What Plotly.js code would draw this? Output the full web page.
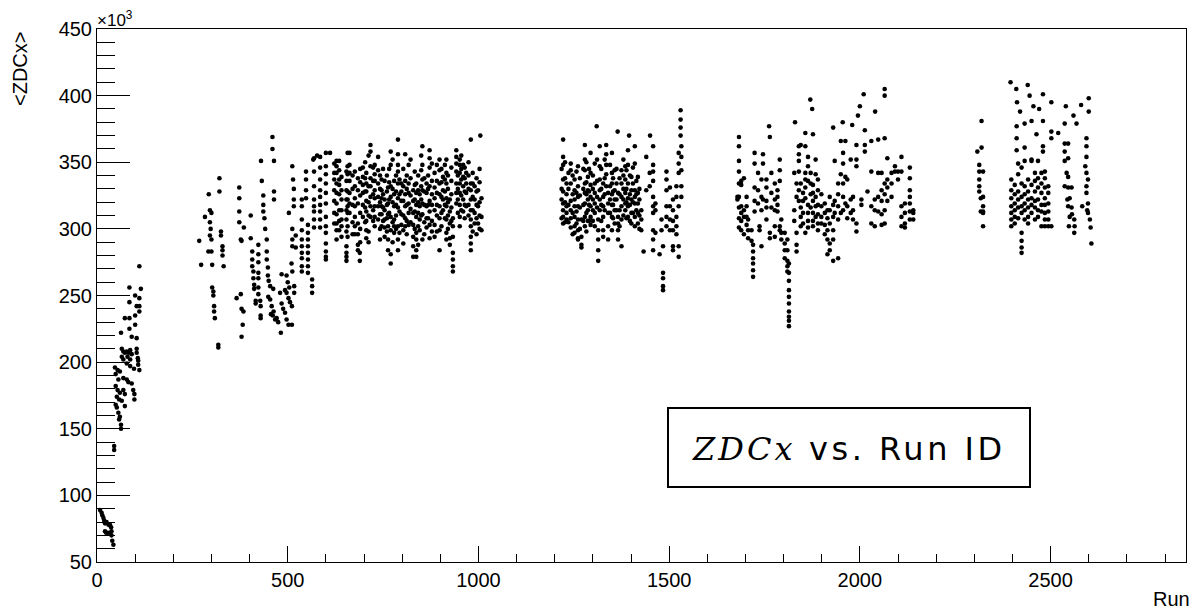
<!DOCTYPE html>
<html>
<head>
<meta charset="utf-8">
<script src="https://cdn.plot.ly/plotly-3.0.1.min.js"></script>
<style>html,body{margin:0;padding:0;background:#fff;}#chart{width:1194px;height:610px;}</style>
</head>
<body>
<div id="chart"></div>
<script>
// <ZDCx> values are in units of 10^3.
// Early runs (scattered)
const runA = [8,12,14,17,19,21,25,30,34,21,28,34,38,38,40,43,37,24,45,45];
const zdcA = [89,87,85,83,81,79,80,78,78,73,72,72,73,70,66,63,76,72,137,134];

const runB = [111,85,115,100,85,111,104,111,111,73,85,100,100,85,63,91,104,
  65,69,73,78,82,87,91,80,87,104,104,107,108,108,111,97,87,78,69,65,
  47,54,60,49,56,69,78,82,91,49,54,60,69,73,95,98,98,52,58,65,49,52,73,56,60,58,63,63];
const zdcB = [272,256,255,250,245,248,242,242,238,233,233,235,228,225,222,219,218,
  210,208,207,208,207,209,206,204,202,210,207,203,201,198,194,195,197,199,202,204,
  196,194,193,191,187,188,187,185,184,182,179,177,179,176,179,176,172,174,172,171,168,166,167,162,159,157,153,150];

const runC = [268,273,283,293,296,300,296,298,296,300,292,300,302,321,321,325,325,329,329,329,332,
  302,305,305,307,307,309,318,318,373,373,373,373,377,379,385,366,377,379,384,382,379,
  403,403,407,407,407,410,410,412,412,416,416,423,423,423,423,423,423,423,428,
  430,432,436,436,436,439,441,445,445,445,448,448,450,454,462,464,464,464,429,429,429,
  449,454,458,463,456,461,467,471,475,482,480,484,488,493,497,502,511,493,497,502,506,511,
  484,497,500,504,517,517,512,514,516,516,516,503,512,512,512,521,521,512,510,460,460,
  537,537,537,537,537,537,537,537,537,537];
const zdcC = [291,273,309,326,314,312,305,300,295,292,283,283,273,338,328,298,295,287,284,280,272,
  256,253,250,242,238,233,213,211,331,323,313,305,292,291,301,248,251,240,238,228,219,
  310,293,283,277,272,268,263,258,255,246,244,288,281,275,267,263,256,251,246,
  351,336,325,318,313,308,300,292,283,277,271,265,261,257,255,351,328,322,242,235,233,
  249,247,242,238,236,235,232,233,230,222,252,244,240,237,232,228,228,254,252,248,245,242,
  266,265,260,256,252,257,347,337,330,322,317,312,300,292,287,295,286,268,274,369,360,
  322,317,307,299,292,287,282,278,272,268];

// Dense period 500-1010: run columns and their values
const runD = [548,553,564,569,585,600,628,641,654,662,676,684,689,697,706,717,728,737,746,754,763,770,779,789,
  798,808,817,829,837,846,853,864,872,885,898,907,916,925,933,942,951,960,968,980,990,999,1008,567,577,611,1005,
  622,635,657,670,690,703,712,724,742,750,760,766,775,784,793,803,812,822,833,842,850,858,868,878,891,903,912,
  920,929,946,955,964,974,985,995,1003];
const zdcD = [[343,337,329,323],[303,297,292,287,282,277,272,267],[262,257,252],[353,343,332,322,317,313,307,301],
  [354,346,337,329,324,318,313,307,301],[357,347,341,334,327,319,309,302,297,289,283,279,277],
  [351,347,342,334,327,319,311,304,299,292],[339,329,322,314,307,302,294],
  [343,336,329,322,314,307,298,287,282,279,276],[357,348,342,336,327,319,312],[343,332,323,317,309,302,296],
  [338,329,319,304,296,288,284],[282,276],[346,339,333,327,318,309],[342,334,328,321,313,306,299,293],
  [363,358,347,338,332,324,317,309],[348,341,336,329,323,317,309,302],[354,344,334,324,317,307],
  [337,329,323,317,311,302],[336,322,314,307,301,294],[331,319,311,302,292,284],[358,348,332,324,309,299,281,274],
  [336,326,317,307,302,297],[367,356,348,343,334,323,316,302,292,284],[334,328,321,311,303],
  [356,336,326,317,308,302],[348,334,327,319,312,303],[329,321,312,303,294,287,279],
  [334,327,318,309,297,292,284,279],[326,317,307,299],[362,348,337,329,319,311,292],[334,327,317,308,301],
  [359,353,346,332,321,313,303,293],[342,331,323,314,303,294],[352,344,334,326,317,308,299,284],
  [339,329,322,314],[352,342,334,323,317,307,297,292],[322,313,304,293,288],[308,302,294,282,277,272,268],
  [359,354,349,343,334,327,319],[352,348,342,334,327,318,309,302],[348,339,332,322,313],[342,334,327,317],
  [367,334,329,322,314,307,302,294,289,284],[332,322,312,304],[329,317,304],[323,309,299],[352],[355],[357],[370],
  [349,342,337,329,321,312,304],[351,344,337,333,326,314,306,299],[357,347,341,328,322,317,312,302,294],
  [340,330,318,305,296],[345,335,325,312,300,290],[350,338,328,316,305],[355,332,320,310,298,290],
  [346,336,326,314,306],[340,330,320,311,300,292],[345,326,316,306],[340,328,318,308,298],[345,335,322,312],
  [352,330,320,305,290],[340,328,318,310,300],[337,326,313,297],[345,332,321,310,299,289],[340,330,318,306,296],
  [352,338,325,315,305],[343,333,322,313,300],[340,329,320,312,302,288],[355,344,332,322,310],
  [338,328,318,305,296],[340,330,318,308],[349,336,326,318,306,298],[348,336,327,318,310,298],
  [345,335,324,312,302],[348,337,328,318,308],[340,330,320,310,300],[346,336,326,316,306],[340,330,322,312],
  [355,345,337,325,314],[346,338,328,318,308],[350,340,330,318,310],[342,334,324,314,298],[338,328,318,308,296],
  [345,335,320,310,300]];

// Period 1200-1535
const runE = [1222,1231,1242,1252,1261,1270,1279,1287,1294,1305,1314,1318,1327,1335,1340,1350,1357,1366,1375,1385,
  1392,1401,1410,1418,1427,1433,1440,1449,1458,1464,1475,1480,1484,1493,1502,1510,1519,1525,1532,
  1530,1310,1365,1395,1450,
  1218,1227,1236,1247,1257,1266,1275,1283,1290,1300,1311,1322,1331,1345,1353,1362,1370,1380,1388,1397,1405,1414,1422];
const zdcE = [[367,354,348,337,328,319,314,309,304],[334,326,317,312,307],[349,344,334,321,314,308,301],
  [337,329,322,317,309,302,297],[347,332,324,317,307,299,293,292],[307,294,288,286],
  [363,352,344,334,327,319,309,302],[339,329,322,314,306],[357,342,333,324,317,309,303],
  [349,334,327,319,312,302],[307,299,292,284,276],[362,347,337,329,322,314],[334,324,317,309,299,294],
  [363,356,348,341,332],[327,319,312,302,292],[357,342,334,326,318,309,299],[344,329,322,314,304],
  [327,309,304,299,292],[344,334,324,317,307,287],[347,337,327,319,314],[359,348,334,323,317,309],
  [339,329,322,312,304],[362,349,329,324,319,309,302],[339,327,319,312,304],[314,307,299],[283],
  [354,329],[342,332],[362,348,343,336,324,317,312,299,292,284],[319,314,297],[281],[307,299],
  [287,267,263,257,254],[343,337,329,317,309,302],[331,317,307,299],[322,314,306,299,287,284],
  [332,324,309,302,296],[357,349,342,317,287,279],[362,354,344,332,324],
  [389,382,376,370],[377],[373],[370],[370],
  [345,330,322,308],[350,338,320,305],[342,330,318,305],[340,326,312,296],[343,327,313,304],[338,325,316,300],
  [345,330,318,306],[350,335,326,312,298],[345,328,318,306],[340,330,322,314,306],[352,336,324,316],
  [345,330,318,306],[352,338,326,314],[348,332,322,312],[338,328,318,308],[345,334,322,314],[338,326,314,302],
  [352,340,330,322,310],[344,330,320,308],[340,326,318,306],[346,334,320,312],[336,326,314],[330,322,310,300]];

// Period 1670-2140
const runF = [1679,1683,1689,1696,1703,1707,1716,1720,1724,1733,1737,1742,1746,1755,1764,1768,1777,1784,1790,1794,
  1803,1810,1814,1828,1834,1840,1845,1851,1857,1864,1871,1877,1884,1890,1899,1908,1915,1921,1930,1934,
  1943,1950,1956,1962,1967,1976,1982,1991,2004,2013,2020,2030,2039,2048,2057,2065,2072,2083,2092,2100,
  2109,2118,2131,2140,1870,1762,1995,2010,2000,2065,1955,2040,1980,1875,1830,1930];
const zdcF = [[324,322],[369,362,351,343,334,324,316,308,301],[336,333,317,312,306,299],[338,314,309,296],
  [324,317,309,303],[307,299,293],[299,291],[288,283,278,274,269,264],[357,349,331,321,313],[342,329,319],
  [302,299],[337,324,314,287],[356,349,322],[337,331,321,316,307],[369,297,293],[342,327,316],
  [334,322,314,302,294],[329,324,318,313],[352,344,336,302,299],[307,297,292],[297,289,284,278],
  [292,284,276,272,268],[274,267,261,254,249,244,238,234,231,227],[342,314,306],[334,324,297,288,283],
  [362,356,351,343,329,321],[363,334,316,309,302],[327,321,312,304],[372,362,342,337,331,323,297],
  [354,347,336,318,312,306,301],[342,334,326,316],[371,333,327,321,312,306,302],[352,341,324,317,309],
  [337,329,318,311,304,299],[326,317,309,304],[319,312,303,296],[314,308,299,292,281],[324,314,304,289,284],
  [318,309,299,292,276],[351,321,312],[334,326,317,307,278],[366,341,312],[357,349,334,324,314],
  [366,339,319],[337,317,308],[352,322,312],[324,314,307],[363,352,347,304,298],[322,318],[374,363,358],
  [328],[366,343,317,304],[322,314,302],[367,342,324,313],[342,329,321,311,303],[368,334,326,314,304],
  [353,337,331,321],[342,334,324],[347,343],[343,337],[354,343,317,309,302],[319,312,304,301],
  [346,338,329,324,319,313,307],[314,312,307],[397],[377],[385],[401],[392],[405,400],[380],[388],[378],[390],[380],[376]];

// Period 2300-2610
const runG = [2308,2313,2317,2319,2323,2397,2406,2411,2415,2424,2432,2441,2450,2459,2463,2467,2476,2480,2485,2494,
  2502,2520,2537,2542,2544,2546,2548,2550,2555,2556,2562,2563,2568,2583,2591,2594,2596,2598,2603,2605,2607,
  2395,2410,2440,2445,2470,2540,2560,2580,2600,2412,2420,2455];
const zdcG = [[358],[348,343,337,332,328],[323,313],[381,361],[343,324,317,313,312,302],
  [337,329,323,317,312,307,302],[333,326,319,314,309,304],[377,368,359],[349,341,328,322,316,308],
  [346,334,324,317,312,297,291,286,282],[379,361,351,332,326,319,314,307],[337,328,322,316,309,304],
  [381,352,351,333,323,318,312],[342,336,328,321,316,307],[371],[351,338,331,322,314,309],
  [342,334,327,318,313,302],[381,362,358,401],[343,338,331,323,318,312,307,302],[332,327,319,313,307,302],
  [373,368,302,395],[372],[379,364,358,351,332],[342],[322],[364,353,339,331,317],[302],[323,309],[331,316],
  [311],[307,297],[302],[379],[317],[347],[368,362,354,342,332,327],[314],[337,319,312],[307],[301],[289],
  [410],[405],[408],[400],[390],[392],[385],[393],[398,388],[395],[388],[392]];

const runs = [], zdcx = [];
runA.forEach((r,i)=>{runs.push(r); zdcx.push(zdcA[i]);});
runB.forEach((r,i)=>{runs.push(r); zdcx.push(zdcB[i]);});
runC.forEach((r,i)=>{runs.push(r); zdcx.push(zdcC[i]);});
[[runD,zdcD],[runE,zdcE],[runF,zdcF],[runG,zdcG]].forEach(([rr,vv])=>{
  rr.forEach((r,i)=>{vv[i].forEach(v=>{runs.push(r); zdcx.push(v);});});
});

const FONT = 'Liberation Sans, Arial, Helvetica, sans-serif';
const axisFont = {family:FONT, size:20, color:'#000'};

const trace = {
  x: runs, y: zdcx, type:'scatter', mode:'markers',
  marker:{color:'#000', size:4.6, symbol:'circle', line:{width:0}},
  hoverinfo:'x+y'
};

// plot area in pixels: x 97..1186, y 29..562
const px = v => (v-97)/1089;
const py = v => (562-v)/533;

const layout = {
  width:1194, height:610,
  margin:{l:97, r:8, t:29, b:48, pad:0},
  paper_bgcolor:'#fff', plot_bgcolor:'#fff',
  showlegend:false,
  font: axisFont,
  xaxis:{
    range:[0,2855], showgrid:false, zeroline:false,
    showline:true, linecolor:'#000', linewidth:1, mirror:true,
    ticks:'inside', ticklen:16, tickwidth:1, tickcolor:'#000',
    tick0:0, dtick:500, tickfont:axisFont,
    minor:{dtick:100, ticks:'inside', ticklen:8, tickwidth:1, tickcolor:'#000', showgrid:false}
  },
  yaxis:{
    range:[50,450], showgrid:false, zeroline:false,
    showline:true, linecolor:'#000', linewidth:1, mirror:true,
    ticks:'inside', ticklen:33, tickwidth:1, tickcolor:'#000',
    tick0:50, dtick:50, tickfont:axisFont,
    minor:{dtick:10, ticks:'inside', ticklen:18, tickwidth:1, tickcolor:'#000', showgrid:false}
  },
  shapes:[{
    type:'rect', xref:'paper', yref:'paper',
    x0:px(668), x1:px(1030), y0:py(487), y1:py(408),
    line:{color:'#000', width:2}, fillcolor:'rgba(255,255,255,0)'
  }],
  annotations:[
    {text:'&lt;ZDCx&gt;', xref:'paper', yref:'paper', x:px(20), y:py(69),
     xanchor:'center', yanchor:'middle', textangle:-90, showarrow:false,
     font:{family:FONT, size:20, color:'#000'}},
    {text:'×10<sup>3</sup>', xref:'paper', yref:'paper', x:px(95), y:py(19),
     xanchor:'left', yanchor:'middle', showarrow:false,
     font:{family:FONT, size:17, color:'#000'}},
    {text:'Run', xref:'paper', yref:'paper', x:px(1192), y:py(599),
     xanchor:'right', yanchor:'middle', showarrow:false,
     font:{family:FONT, size:20, color:'#000'}},
    {text:'<span style="font-family:\'DejaVu Serif\', serif;font-style:italic;letter-spacing:3px">ZDCx</span><span style="letter-spacing:3.5px"> vs. Run ID</span>',
     xref:'paper', yref:'paper', x:px(849), y:py(449),
     xanchor:'center', yanchor:'middle', showarrow:false,
     font:{family:'DejaVu Sans, sans-serif', size:32, color:'#000'}}
  ]
};

Plotly.newPlot('chart', [trace], layout, {displayModeBar:false, staticPlot:true});
</script>
</body>
</html>
